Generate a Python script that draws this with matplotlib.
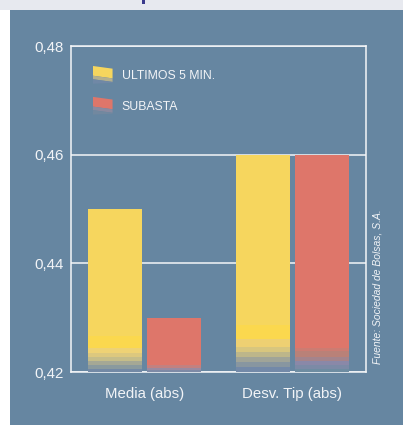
import matplotlib
matplotlib.use("Agg")
import matplotlib.pyplot as plt
from matplotlib.patches import Rectangle, Polygon
from matplotlib.legend_handler import HandlerBase

plt.rcParams['font.family'] = ['Liberation Sans', 'DejaVu Sans']

categories = ["Media (abs)", "Desv. Tip (abs)"]
series_names = ["ULTIMOS 5 MIN.", "SUBASTA"]
ultimos = [0.45, 0.46]
subasta = [0.43, 0.46]
yticks = [0.42, 0.44, 0.46, 0.48]
ytick_labels = ["0,42", "0,44", "0,46", "0,48"]
source = "Fuente: Sociedad de Bolsas, S.A."

BG = "#6686a1"
YEL = "#f6d65e"
RED = "#de766a"

W, H = 403, 425
fig = plt.figure(figsize=(W / 100, H / 100), dpi=100)
fig.patch.set_facecolor("white")
# panel background and top band
fig.add_artist(Rectangle((10 / W, 0), 1, (H - 9.5) / H, transform=fig.transFigure,
                         facecolor=BG, edgecolor="none", zorder=-10))
fig.add_artist(Rectangle((0, (H - 9.5) / H), 1, 9.5 / H, transform=fig.transFigure,
                         facecolor="#e7e9ef", edgecolor="none", zorder=-10))
fig.add_artist(Rectangle((142 / W, (H - 4) / H), 2.5 / W, 4 / H, transform=fig.transFigure,
                         facecolor="#3a3a8c", edgecolor="none", zorder=-9))

ax = fig.add_axes([71 / W, 53 / H, 295 / W, 326 / H])
ax.set_facecolor("none")
ymin, ymax = 0.42, 0.48
ax.set_ylim(ymin, ymax)
ax.set_xlim(-0.5, 1.5)
unit = (ymax - ymin) / 326.0  # data per pixel (for bottom shading only)

bw = 0.366
xs = [0, 1]
offs = [-0.2, 0.2]

def shade(x, bands):
    b = ymin
    for hpx, col in bands:
        ax.bar(x, hpx * unit, bw, bottom=b, color=col, linewidth=0, zorder=3)
        b += hpx * unit

yel_bands = [
    [(3, "#7389a5"), (4, "#8a9a9e"), (4, "#a5a895"), (4, "#c5bd89"), (4, "#dcc87e"),
     (5, "#eed275"), (12, "#fbd84e")],
    [(5, "#7389a8"), (5, "#8896a0"), (5, "#a0a498"), (5, "#bdb68a"), (5, "#d8c67e"),
     (8, "#eed072"), (14, "#fbd84e")],
]
red_bands = [
    [(2, "#7e8aa6"), (2, "#9a8aa0"), (3, "#c28180")],
    [(3, "#6e8ca1"), (4, "#7c8aa6"), (4, "#8a88a8"), (4, "#a4848c"), (6, "#b98178"),
     (3, "#cc7c72")],
]

for i, x in enumerate(xs):
    ax.bar(x + offs[0], ultimos[i] - ymin, bw, bottom=ymin, color=YEL, linewidth=0, zorder=2)
    shade(x + offs[0], yel_bands[i])
    ax.bar(x + offs[1], subasta[i] - ymin, bw, bottom=ymin, color=RED, linewidth=0, zorder=2)
    shade(x + offs[1], red_bands[i])

ax.set_yticks(yticks)
ax.set_yticklabels(ytick_labels)
ax.set_xticks(xs)
ax.set_xticklabels(categories)
ax.tick_params(axis="y", length=0, pad=5, labelsize=10.8, labelcolor="#f2f4f7")
ax.tick_params(axis="x", length=0, pad=11, labelsize=10.8, labelcolor="#f2f4f7")
ax.yaxis.grid(True, color="#f4f6f8", linewidth=1.1, zorder=1)
ax.set_axisbelow(True)
for s in ax.spines.values():
    s.set_color("#f4f6f8")
    s.set_linewidth(1.1)
ax.spines["bottom"].set_zorder(1)


class IconHandler(HandlerBase):
    def __init__(self, colors):
        super().__init__()
        self.colors = colors

    def create_artists(self, legend, orig_handle, xdescent, ydescent, width, height,
                       fontsize, trans):
        x0 = -xdescent
        y0 = -ydescent
        y1 = y0 + height
        sl = height * 0.15
        fr = [0.55, 0.2, 0.25]
        arts = []
        top_l, top_r = y1, y1 - sl
        for c, f in zip(self.colors, fr):
            h = height * f
            bl, br = top_l - h, top_r - h
            if c is self.colors[-1]:
                bl, br = y0, y0 + sl * 0.3
            p = Polygon([[x0, top_l], [x0 + width, top_r], [x0 + width, br], [x0, bl]],
                        closed=True, facecolor=c, edgecolor="none", transform=trans)
            arts.append(p)
            top_l, top_r = bl, br
        return arts


h1 = Rectangle((0, 0), 1, 1)
h2 = Rectangle((0, 1), 1, 1)
leg = ax.legend([h1, h2], series_names, loc="upper left",
                bbox_to_anchor=((93 - 71) / 295, (372 - 66) / 326),
                frameon=False, fontsize=8.8, labelcolor="#f2f4f7",
                handlelength=1.6, handleheight=1.85, labelspacing=1.08,
                handletextpad=0.75, borderpad=0, borderaxespad=0,
                handler_map={h1: IconHandler([YEL, "#b4b08e", "#7088a6"]),
                             h2: IconHandler([RED, "#8a8aa0", "#72889f"])})

fig.text(378 / W, (H - 364) / H, source, rotation=90, ha="center", va="bottom",
         fontsize=7.5, style="italic", color="#f2f4f7")

fig.savefig("out.png", dpi=100)
